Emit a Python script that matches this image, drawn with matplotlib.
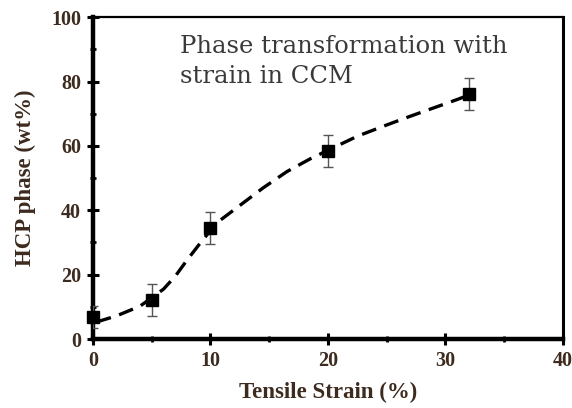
import matplotlib.pyplot as plt
from matplotlib.ticker import MultipleLocator

# measured points
strain = [0, 5, 10, 20, 32]
hcp = [6.9, 12.1, 34.4, 58.5, 76.2]
hcp_err = [3.5, 5, 5, 5, 5]

# dashed trend curve
curve_x = [0.3, 2, 4, 6, 7, 8, 9, 10.5, 12.5, 14.5, 16.5, 18.5, 20.5, 22.5, 25, 27, 29, 31, 32]
curve_y = [5.3, 7.2, 10.2, 15.5, 19.5, 24.5, 29.2, 36, 41.5, 47, 52, 56, 59.5, 63, 66.5, 69.2, 71.8, 74.4, 75.8]

label_col = "#3d2b1f"
label_font = "Liberation Serif"

fig = plt.figure(figsize=(5.72, 4.08), dpi=100)
ax = fig.add_axes([0.1626, 0.169, 0.8214, 0.789])

ax.plot(curve_x, curve_y, color="black", linewidth=2.4, linestyle=(0, (4.5, 2.6)), zorder=2)
ax.errorbar(strain, hcp, yerr=hcp_err, fmt="none", ecolor="#555555", elinewidth=1.0,
            capsize=3.5, capthick=1.0, zorder=3)
ax.plot(strain, hcp, linestyle="none", marker="s", markersize=8.5, color="black",
        clip_on=False, zorder=4)

ax.set_xlim(0, 40)
ax.set_ylim(0, 100)
ax.xaxis.set_major_locator(MultipleLocator(10))
ax.xaxis.set_minor_locator(MultipleLocator(5))
ax.yaxis.set_major_locator(MultipleLocator(20))
ax.yaxis.set_minor_locator(MultipleLocator(10))

ax.spines["left"].set_linewidth(3.2)
ax.spines["bottom"].set_linewidth(3.2)
ax.spines["right"].set_linewidth(2.2)
ax.spines["top"].set_linewidth(1.6)

ax.tick_params(which="major", direction="inout", length=9, width=2.2, pad=4)
ax.tick_params(which="minor", direction="inout", length=5, width=2.0)
ax.tick_params(top=False, right=False, which="both")

for lab in ax.get_xticklabels() + ax.get_yticklabels():
    lab.set_fontfamily(label_font)
    lab.set_fontweight("bold")
    lab.set_fontsize(14.5)
    lab.set_color(label_col)

ax.set_xlabel("Tensile Strain (%)", fontfamily=label_font, fontweight="bold",
              fontsize=16.5, color=label_col, labelpad=8)
ax.set_ylabel("HCP phase (wt%)", fontfamily=label_font, fontweight="bold",
              fontsize=16.5, color=label_col, labelpad=11)

ax.text(0.185, 0.945, "Phase transformation with\nstrain in CCM", transform=ax.transAxes,
        ha="left", va="top", fontfamily="DejaVu Serif", fontsize=17.5, color="#3a3a3a",
        linespacing=1.4)

fig.savefig("out.png", dpi=100)
